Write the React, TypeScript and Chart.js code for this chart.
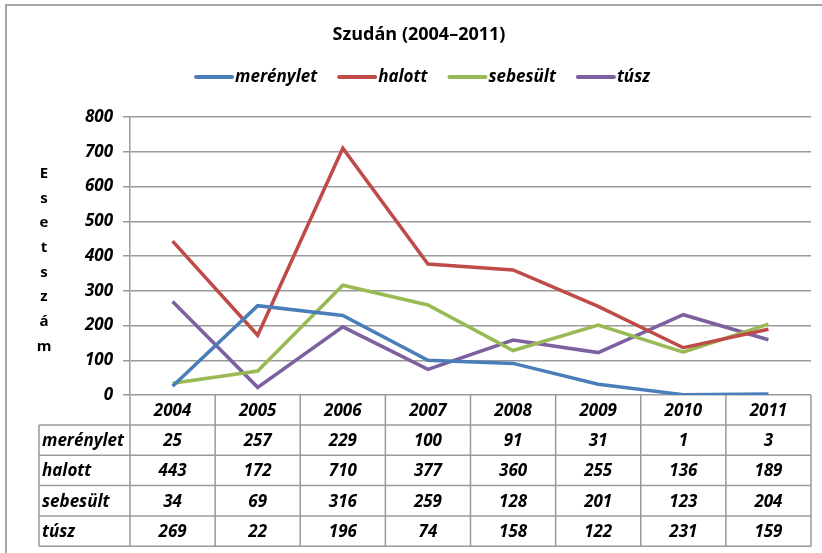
import React, { useEffect, useRef } from "react";
import { Chart, registerables } from "chart.js";

Chart.register(...registerables);

const years = ["2004", "2005", "2006", "2007", "2008", "2009", "2010", "2011"];
const merenylet = [25, 257, 229, 100, 91, 31, 1, 3];
const halott = [443, 172, 710, 377, 360, 255, 136, 189];
const sebesult = [34, 69, 316, 259, 128, 201, 123, 204];
const tusz = [269, 22, 196, 74, 158, 122, 231, 159];
const seriesNames = ["merénylet", "halott", "sebesült", "túsz"];
const seriesColors = ["#4A7EBB", "#BE4B48", "#98B954", "#7D60A0"];
const chartTitle = "Szudán (2004–2011)";
const yTitle = "Esetszám";

const FONT = "'Open Sans', Lato, sans-serif";
const GRID = "#9a9a9a";

const decorPlugin = {
  id: "decor",
  afterDraw(chart: any) {
    const ctx = chart.ctx as CanvasRenderingContext2D;
    const area = chart.chartArea;
    const xs = chart.scales.x;
    ctx.save();

    // outer frame (top and left edges visible)
    ctx.strokeStyle = "#a6a6a6";
    ctx.lineWidth = 2;
    ctx.beginPath();
    ctx.moveTo(6, 553);
    ctx.lineTo(6, 5);
    ctx.lineTo(822, 5);
    ctx.stroke();

    // title
    ctx.fillStyle = "#000";
    ctx.font = `bold 18px ${FONT}`;
    ctx.textAlign = "center";
    ctx.textBaseline = "middle";
    ctx.fillText(chartTitle, 419, 35);

    // legend
    ctx.font = `italic bold 17px ${FONT}`;
    const lineLen = 40;
    const gap = 20;
    const ds = chart.data.datasets;
    const widths = ds.map((d: any) => ctx.measureText(d.label).width);
    let total = 0;
    widths.forEach((w: number, i: number) => {
      total += lineLen + 1 + w + (i < widths.length - 1 ? gap : 0);
    });
    let lx = 422 - total / 2;
    const ly = 77;
    ctx.textAlign = "left";
    ds.forEach((d: any, i: number) => {
      ctx.strokeStyle = d.borderColor;
      ctx.lineWidth = 4;
      ctx.lineCap = "round";
      ctx.beginPath();
      ctx.moveTo(lx + 2, ly);
      ctx.lineTo(lx + lineLen - 2, ly);
      ctx.stroke();
      ctx.fillStyle = "#000";
      ctx.fillText(d.label, lx + lineLen + 1, ly);
      lx += lineLen + 1 + widths[i] + gap;
    });
    ctx.lineCap = "butt";

    // vertical y title
    ctx.font = `bold 15px ${FONT}`;
    ctx.textAlign = "center";
    const letters = Array.from(yTitle);
    const step = 24.7;
    const midY = (area.top + area.bottom) / 2 + 4;
    letters.forEach((ch, i) => {
      ctx.fillText(ch, 44, midY + (i - (letters.length - 1) / 2) * step);
    });

    // data table
    const half = (xs.getPixelForValue(1) - xs.getPixelForValue(0)) / 2;
    const rowTop = area.bottom;
    const headerBottom = rowTop + 30;
    const rowH = 30.3;
    const nRows = ds.length;
    const tableBottom = headerBottom + nRows * rowH;
    const labelLeft = 39;
    ctx.strokeStyle = GRID;
    ctx.lineWidth = 1.5;
    ctx.beginPath();
    for (let k = 0; k <= years.length; k++) {
      const x = k < years.length ? xs.getPixelForValue(k) - half : xs.getPixelForValue(years.length - 1) + half;
      ctx.moveTo(x, rowTop);
      ctx.lineTo(x, tableBottom);
    }
    ctx.moveTo(labelLeft, headerBottom);
    ctx.lineTo(labelLeft, tableBottom);
    for (let r = 0; r <= nRows; r++) {
      const y = headerBottom + r * rowH;
      ctx.moveTo(labelLeft, y);
      ctx.lineTo(area.right, y);
    }
    ctx.stroke();

    ctx.fillStyle = "#000";
    ctx.font = `italic bold 17px ${FONT}`;
    ctx.textAlign = "center";
    years.forEach((y, i) => {
      ctx.fillText(y, xs.getPixelForValue(i), (rowTop + headerBottom) / 2 + 1);
    });
    ds.forEach((d: any, r: number) => {
      const cy = headerBottom + (r + 0.5) * rowH + 1;
      ctx.textAlign = "left";
      ctx.fillText(d.label, labelLeft + 3, cy);
      ctx.textAlign = "center";
      d.data.forEach((v: number, i: number) => {
        ctx.fillText(String(v), xs.getPixelForValue(i), cy);
      });
    });

    ctx.restore();
  },
};

export default function App() {
  const ref = useRef<HTMLCanvasElement | null>(null);
  useEffect(() => {
    document.body.style.margin = "0";
    const allSeries = [merenylet, halott, sebesult, tusz];
    const chart = new Chart(ref.current as HTMLCanvasElement, {
      type: "line",
      data: {
        labels: years,
        datasets: allSeries.map((s, i) => ({
          label: seriesNames[i],
          data: s,
          borderColor: seriesColors[i],
          backgroundColor: seriesColors[i],
          borderWidth: 3.5,
          pointRadius: 0,
          tension: 0,
        })),
      },
      options: {
        animation: false,
        responsive: false,
        devicePixelRatio: 1,
        layout: { padding: { top: 117, right: 11, bottom: 158, left: 0 } },
        plugins: {
          legend: { display: false },
          title: { display: false },
          tooltip: { enabled: false },
        },
        scales: {
          x: { display: false, offset: true },
          y: {
            min: 0,
            max: 800,
            ticks: {
              stepSize: 100,
              padding: 10,
              color: "#000",
              font: { family: FONT, size: 17, weight: "bold", style: "italic" },
            },
            grid: { color: GRID, lineWidth: 1.5, tickLength: 7 },
            border: { color: GRID, width: 1.5 },
            afterFit: (scale: any) => {
              scale.width = 130;
            },
          },
        },
      },
      plugins: [decorPlugin],
    } as any);
    return () => chart.destroy();
  }, []);
  return (
    <div style={{ position: "absolute", left: 0, top: 0, width: 822, height: 553 }}>
      <canvas ref={ref} width={822} height={553} />
    </div>
  );
}
